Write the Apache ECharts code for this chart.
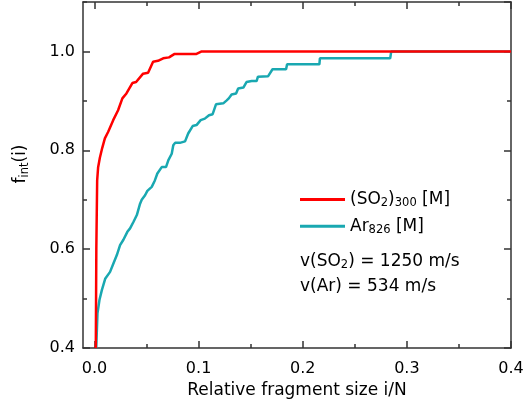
<!DOCTYPE html>
<html>
<head>
<meta charset="utf-8">
<script src="https://cdn.jsdelivr.net/npm/echarts@6/dist/echarts.min.js"></script>
<style>
html,body{margin:0;padding:0;background:#fff;}
#chart{width:526px;height:414px;}
</style>
</head>
<body>
<div id="chart"></div>
<script>
// ---- data ----
var xRange = [-0.011, 0.4];
var yRange = [0.4, 1.1];
var xMajorStep = 0.1;
var xMinorStep = 0.05;
var yMajorStep = 0.2;
var yMinorStep = 0.1;

var so2Name = '(SO2)300 [M]';
var arName = 'Ar826 [M]';

var so2X = [0.0013, 0.0018, 0.0026, 0.0035, 0.0052, 0.0075, 0.010, 0.0131, 0.018, 0.0227, 0.0268, 0.0307, 0.0364, 0.040, 0.0467, 0.0515, 0.0563, 0.061, 0.066, 0.0716, 0.077, 0.098, 0.103, 0.4];
var so2Y = [0.40, 0.60, 0.739, 0.765, 0.785, 0.805, 0.824, 0.837, 0.861, 0.881, 0.905, 0.915, 0.936, 0.938, 0.955, 0.957, 0.979, 0.981, 0.986, 0.988, 0.995, 0.995, 1.0, 1.0];

var arX = [0.0017, 0.0029, 0.0048, 0.0071, 0.0103, 0.015, 0.0182, 0.0215, 0.0246, 0.0278, 0.0316, 0.0342, 0.0374, 0.0407, 0.0438, 0.0454, 0.0486, 0.0508, 0.055, 0.058, 0.0604, 0.0646, 0.0687, 0.071, 0.0742, 0.0757, 0.0774, 0.082, 0.087, 0.090, 0.0943, 0.098, 0.102, 0.106, 0.110, 0.1135, 0.1167, 0.1237, 0.127, 0.129, 0.1317, 0.136, 0.138, 0.143, 0.146, 0.151, 0.1557, 0.157, 0.1668, 0.171, 0.184, 0.185, 0.216, 0.2165, 0.284, 0.285, 0.4];
var arY = [0.40, 0.470, 0.497, 0.517, 0.540, 0.554, 0.571, 0.588, 0.608, 0.619, 0.635, 0.642, 0.655, 0.669, 0.692, 0.700, 0.709, 0.718, 0.726, 0.739, 0.753, 0.766, 0.766, 0.780, 0.793, 0.810, 0.815, 0.815, 0.818, 0.834, 0.849, 0.851, 0.861, 0.864, 0.871, 0.873, 0.893, 0.895, 0.901, 0.905, 0.913, 0.915, 0.925, 0.927, 0.938, 0.940, 0.940, 0.949, 0.950, 0.964, 0.964, 0.974, 0.974, 0.986, 0.986, 1.0, 1.0];

// ---- chart ----
var FONT = 'DejaVu Sans';
var AX = '#333333';
var TICK = '#333333';
var RED = '#ff0000';
var TEAL = '#19a8b1';

function zip(xs, ys) { return xs.map(function (x, i) { return [x, ys[i]]; }); }

var richStyles = {
  a: { fontFamily: FONT, fontSize: 17, color: '#000', lineHeight: 20 },
  s: { fontFamily: FONT, fontSize: 11.5, color: '#000', lineHeight: 8, verticalAlign: 'bottom' }
};
function richName(name) {
  if (name === so2Name) return '{a|(SO}{s|2}{a|)}{s|300}{a| [M]}';
  if (name === arName) return '{a|Ar}{s|826}{a| [M]}';
  return '{a|' + name + '}';
}
var velocityRich = [
  '{a|v(SO}{s|2}{a|) = 1250 m/s}',
  '{a|v(Ar) = 534 m/s}'
];

var PL = 83, PR = 15, PT = 2, PB = 66;
var plotW = 526 - PL - PR;
var zeroLeft = PL + plotW * (0 - xRange[0]) / (xRange[1] - xRange[0]);

function lineSt() { return { color: AX, width: 1.5 }; }
function tickSt() { return { color: TICK, width: 1.5 }; }
var fmt1 = function (v) { return v.toFixed(1); };

function gridBox(left) {
  return { left: left, right: PR, top: PT, bottom: PB, containLabel: false, outerBoundsMode: 'none' };
}
var grids = [gridBox(PL), gridBox(PL), gridBox(zeroLeft), gridBox(zeroLeft)];

var hiddenX = function (g) { return { type: 'value', gridIndex: g, show: false, min: xRange[0], max: xRange[1] }; };
var hiddenY = function (g) { return { type: 'value', gridIndex: g, show: false, min: yRange[0], max: yRange[1] }; };

function frameX(pos) {
  return {
    type: 'value', gridIndex: 0, position: pos, min: xRange[0], max: xRange[1],
    axisLine: { show: true, onZero: false, lineStyle: lineSt() },
    axisTick: { show: false }, axisLabel: { show: false }, splitLine: { show: false },
    name: pos === 'bottom' ? 'Relative fragment size i/N' : '',
    nameLocation: 'middle', nameGap: 34,
    nameTextStyle: { fontFamily: FONT, fontSize: 17, color: '#000' }
  };
}
function tickX(g, pos, step, len, labels) {
  return {
    type: 'value', gridIndex: g, position: pos, min: 0, max: xRange[1], interval: step,
    axisLine: { show: false, onZero: false },
    axisTick: { show: true, inside: true, length: len, lineStyle: tickSt() },
    axisLabel: labels ? { show: true, formatter: fmt1, fontFamily: FONT, fontSize: 16, color: '#000', margin: 13 } : { show: false },
    splitLine: { show: false }
  };
}
function tickY(g, pos, step, len, labels, frame) {
  return {
    type: 'value', gridIndex: g, position: pos, min: yRange[0], max: yRange[1], interval: step,
    axisLine: { show: frame, onZero: false, lineStyle: lineSt() },
    axisTick: { show: true, inside: true, length: len, lineStyle: tickSt() },
    axisLabel: labels ? { show: true, showMaxLabel: false, formatter: fmt1, fontFamily: FONT, fontSize: 16, color: '#000', margin: 8 } : { show: false },
    splitLine: { show: false },
    name: labels ? '{a|f}{s|int}{a|(i)}' : '',
    nameLocation: 'middle', nameGap: 52, nameRotate: 90,
    nameTextStyle: { fontFamily: FONT, fontSize: 17, color: '#000', rich: richStyles, padding: [0, 0, 0, 22] }
  };
}

var chart = echarts.init(document.getElementById('chart'), null, { renderer: 'canvas' });
chart.setOption({
  animation: false,
  backgroundColor: '#fff',
  grid: grids,
  xAxis: [
    frameX('bottom'),
    frameX('top'),
    hiddenX(1),
    tickX(2, 'bottom', xMajorStep, 7, true),
    tickX(2, 'top', xMajorStep, 7, false),
    tickX(3, 'bottom', xMinorStep, 4, false),
    tickX(3, 'top', xMinorStep, 4, false)
  ],
  yAxis: [
    tickY(0, 'left', yMajorStep, 7, true, true),
    tickY(0, 'right', yMajorStep, 7, false, true),
    tickY(1, 'left', yMinorStep, 4, false, false),
    tickY(1, 'right', yMinorStep, 4, false, false),
    hiddenY(2),
    hiddenY(3)
  ],
  legend: {
    orient: 'vertical', left: 300, top: 191, padding: 0,
    itemWidth: 45, itemHeight: 3, itemGap: 8.3, icon: 'rect',
    data: [so2Name, arName],
    formatter: richName,
    textStyle: { fontFamily: FONT, fontSize: 17, color: '#000', rich: richStyles }
  },
  graphic: velocityRich.map(function (t, i) {
    return {
      type: 'text', left: 300, top: 253 + i * 25,
      style: { text: t, rich: richStyles, fontFamily: FONT, fontSize: 17, fill: '#000' }
    };
  }),
  series: [
    {
      name: so2Name, type: 'line', xAxisIndex: 0, yAxisIndex: 0,
      data: zip(so2X, so2Y), showSymbol: false, symbol: 'none',
      color: RED, lineStyle: { color: RED, width: 2.5 }, z: 3
    },
    {
      name: arName, type: 'line', xAxisIndex: 0, yAxisIndex: 0,
      data: zip(arX, arY), showSymbol: false, symbol: 'none',
      color: TEAL, lineStyle: { color: TEAL, width: 2.5 }, z: 2
    }
  ]
});
</script>
</body>
</html>
